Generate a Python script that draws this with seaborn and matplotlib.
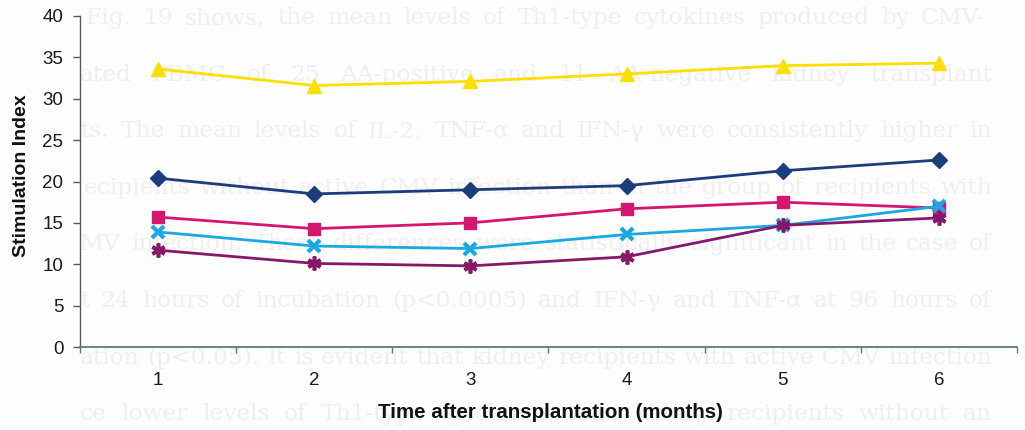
import matplotlib
matplotlib.use("Agg")
import matplotlib.pyplot as plt
import seaborn as sns
import numpy as np

# ---- data ---------------------------------------------------------------
months = [1, 2, 3, 4, 5, 6]
series_names = ["Series 1", "Series 2", "Series 3", "Series 4", "Series 5"]
navy_vals = [20.4, 18.5, 19.0, 19.5, 21.3, 22.6]
magenta_vals = [15.7, 14.3, 15.0, 16.7, 17.5, 16.8]
yellow_vals = [33.6, 31.6, 32.1, 33.0, 34.0, 34.3]
cyan_vals = [13.9, 12.2, 11.9, 13.6, 14.7, 17.0]
purple_vals = [11.7, 10.1, 9.8, 10.9, 14.7, 15.6]
y_ticks = [0, 5, 10, 15, 20, 25, 30, 35, 40]
x_label = "Time after transplantation (months)"
y_label = "Stimulation Index"

# faint page text showing through behind the chart
page_lines = [
    "Fig. 19 shows, the mean levels of Th1-type cytokines produced by CMV-",
    "ated PBMC of 25 AA-positive and 11 AA-negative kidney transplant",
    "ts. The mean levels of IL-2, TNF-\u03b1 and IFN-\u03b3 were consistently higher in",
    "ecipients without active CMV infection than in the group of recipients with",
    "MV infection. These differences were statistically significant in the case of",
    "t 24 hours of incubation (p<0.0005) and IFN-\u03b3 and TNF-\u03b1 at 96 hours of",
    "ation (p<0.05). It is evident that kidney recipients with active CMV infection",
    "ce lower levels of Th1-type cytokines than kidney recipients without an",
]

# ---- style --------------------------------------------------------------
sns.set_style("ticks")
plt.rcParams["font.family"] = ["Liberation Sans", "DejaVu Sans"]

W, H = 1025, 430
fig = plt.figure(figsize=(W / 100, H / 100), dpi=100, facecolor="#fdfdfd")
ax = fig.add_axes([80 / W, (H - 347) / H, (1017 - 80) / W, (347 - 16) / H])
ax.set_facecolor("none")

# ---- page text, justified word by word ---------------------------------
renderer = fig.canvas.get_renderer()
txt_kw = dict(fontsize=16.8, family=["DejaVu Serif"], color="#efefef")
line_y = [18, 75, 131, 188, 244, 301, 358, 414]
line_left = [86, 80, 80, 84, 80, 80, 80, 80]
line_right = [985, 992, 992, 992, 992, 992, 992, 992]


def text_width(s):
    t = fig.text(0, 0, s, **txt_kw)
    w = t.get_window_extent(renderer).width
    t.remove()
    return w


for line, yc, xl, xr in zip(page_lines, line_y, line_left, line_right):
    words = line.split(" ")
    widths = [text_width(w) for w in words]
    gap = max((xr - xl - sum(widths)) / (len(words) - 1), 3.0)
    x = xl
    for w, wd in zip(words, widths):
        fig.text(x / W, 1 - yc / H, w, ha="left", va="center", zorder=-5, **txt_kw)
        x += wd + gap

# ---- series -------------------------------------------------------------
styles = [
    (navy_vals, "#1b3d7b", "D", 8.5, 1.0),
    (magenta_vals, "#d5166f", "s", 8.5, 1.0),
    (yellow_vals, "#ffdf00", "^", 10, 1.0),
    (cyan_vals, "#1ba8e0", "x", 9, 3.0),
    (purple_vals, "#86186a", (6, 2, 0), 10, 2.6),
]
for name, (vals, col, mk, ms, mew) in zip(series_names, styles):
    sns.lineplot(
        x=months, y=vals, ax=ax, color=col, linewidth=2.0,
        marker=mk, markersize=ms, markeredgewidth=mew,
        markerfacecolor=col, markeredgecolor=col, label=name, legend=False,
    )

# ---- axes ---------------------------------------------------------------
ax.set_xlim(0.5, 6.5)
ax.set_ylim(0, 40)
ax.set_yticks(y_ticks)
ax.set_xticks(months)
ax.set_xticks(np.arange(0.5, 7.0, 1.0), minor=True)

for side in ("top", "right"):
    ax.spines[side].set_visible(False)
ax.spines["left"].set_color("#5a5a5a")
ax.spines["left"].set_linewidth(1.0)
ax.spines["bottom"].set_color("#5b7d70")
ax.spines["bottom"].set_linewidth(1.3)

ax.tick_params(axis="y", which="major", direction="out", length=5, width=1.0,
               color="#5a5a5a", pad=7, labelsize=13.5, labelcolor="#1a1a1a")
ax.tick_params(axis="x", which="major", length=0, pad=18, labelsize=13.5, labelcolor="#1a1a1a")
ax.tick_params(axis="x", which="minor", direction="out", length=4, width=1.0, color="#5b7d70")

ax.set_xlabel(x_label, fontsize=14.8, fontweight="bold", color="#111111")
ax.set_ylabel(y_label, fontsize=14, fontweight="bold", color="#111111")
ax.xaxis.label.set_va("center")
ax.yaxis.label.set_va("center")
ax.xaxis.set_label_coords(0.502, -(413 - 347) / 331)
ax.yaxis.set_label_coords((22 - 80) / 937, (347 - 176) / 331)

fig.savefig("out.png", dpi=100, facecolor=fig.get_facecolor())
